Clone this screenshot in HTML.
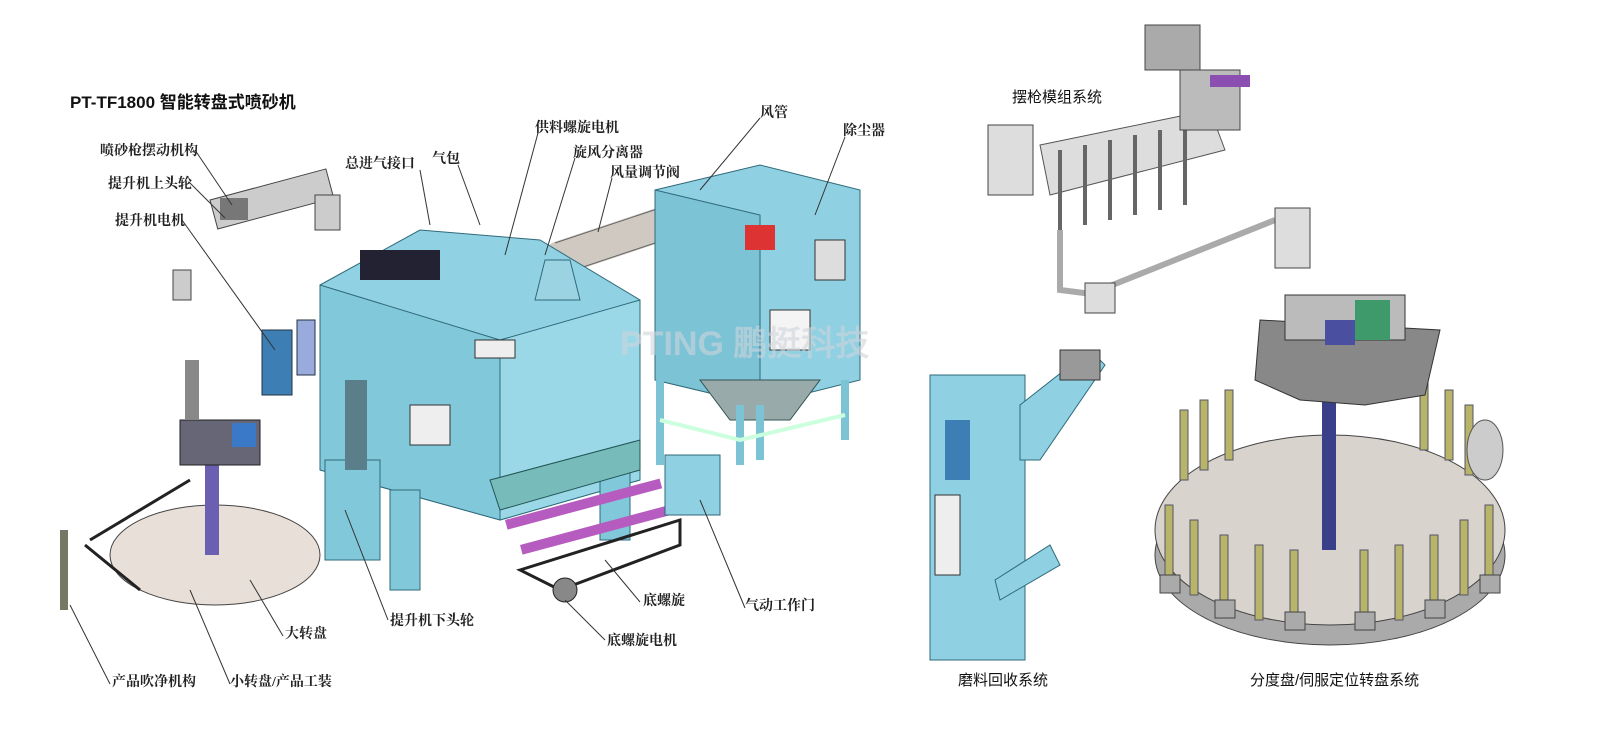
<!DOCTYPE html>
<html><head><meta charset="utf-8"><style>
html,body{margin:0;padding:0;background:#fff;}
svg{display:block}
.l{font-family:"Liberation Serif","Noto Serif CJK SC",serif;font-size:14px;fill:#222;font-weight:bold}
.b{font-family:"Liberation Sans","Noto Sans CJK SC",sans-serif;font-size:15px;fill:#111}
</style></head><body>
<svg width="1600" height="735" viewBox="0 0 1600 735" xmlns="http://www.w3.org/2000/svg">
<rect width="1600" height="735" fill="#fff"/>
<text x="70" y="108" font-family="Liberation Sans,Noto Sans CJK SC,sans-serif" font-size="17" font-weight="bold" fill="#111">PT-TF1800 智能转盘式喷砂机</text>

<!-- pipe -->
<path d="M560 258 L770 188" stroke="#cfc9c1" stroke-width="34" stroke-linecap="round"/>
<path d="M555 243 L765 173 M565 273 L775 203" stroke="#666" stroke-width="1"/>
<!-- dust collector -->
<polygon points="655,190 760,165 860,190 860,380 760,405 655,380" fill="#8fd0e2" stroke="#2f6a7a"/>
<polygon points="655,190 760,215 760,405 655,380" fill="#7cc3d6" stroke="#2f6a7a"/>
<rect x="745" y="225" width="30" height="25" fill="#d33"/>
<rect x="815" y="240" width="30" height="40" fill="#ddd" stroke="#333"/>
<polygon points="700,380 820,380 790,420 730,420" fill="#9aa" stroke="#355"/>
<path d="M660 380 L660 465 M740 405 L740 465 M845 380 L845 440 M760 405 L760 460" stroke="#7cc3d6" stroke-width="8"/>
<path d="M660 420 L740 440 L845 415" stroke="#cfd" stroke-width="4" fill="none"/>
<rect x="770" y="310" width="40" height="40" fill="#f4f4f4" stroke="#333"/>
<!-- main machine -->
<polygon points="320,285 420,230 540,240 640,300 640,480 500,520 320,470" fill="#90d2e4" stroke="#2f6a7a"/>
<polygon points="320,285 500,340 500,520 320,470" fill="#82c8db" stroke="#2f6a7a"/>
<polygon points="500,340 640,300 640,480 500,520" fill="#9ad8e8" stroke="#2f6a7a"/>
<rect x="325" y="460" width="55" height="100" fill="#82c8db" stroke="#2f6a7a"/>
<rect x="390" y="490" width="30" height="100" fill="#82c8db" stroke="#2f6a7a"/>
<rect x="600" y="470" width="30" height="70" fill="#82c8db" stroke="#2f6a7a"/>
<rect x="345" y="380" width="22" height="90" fill="#5a7f8b"/>
<rect x="410" y="405" width="40" height="40" fill="#eee" stroke="#333"/>
<rect x="475" y="340" width="40" height="18" fill="#eee" stroke="#333"/>
<g fill="#223"><rect x="360" y="250" width="80" height="30"/></g>
<polygon points="535,300 580,300 570,260 545,260" fill="#9cd3e3" stroke="#2f6a7a"/>
<polygon points="490,480 640,440 640,470 500,510" fill="#7bb" stroke="#255"/>
<g fill="#b65bbf"><rect x="505" y="520" width="160" height="10" transform="rotate(-15 505 520)"/><rect x="520" y="545" width="160" height="10" transform="rotate(-15 520 545)"/></g>
<path d="M520 570 L680 520 L680 545 L560 590 Z" fill="none" stroke="#222" stroke-width="3"/>
<circle cx="565" cy="590" r="12" fill="#888" stroke="#222"/>
<text x="620" y="355" font-family="Liberation Sans,sans-serif" font-size="34" font-weight="bold" fill="#cfd6dc" opacity="0.6">PTING 鹏挺科技</text>
<!-- door -->
<rect x="665" y="455" width="55" height="60" fill="#8fd0e2" stroke="#2f6a7a"/>
<!-- left swing gun parts -->
<rect x="210" y="200" width="120" height="30" fill="#ccc" stroke="#444" transform="rotate(-15 210 200)"/>
<rect x="315" y="195" width="25" height="35" fill="#ccc" stroke="#444"/>
<rect x="220" y="198" width="28" height="22" fill="#777"/>
<rect x="173" y="270" width="18" height="30" fill="#ccc" stroke="#444"/>
<rect x="262" y="330" width="30" height="65" fill="#3d7fb4" stroke="#234"/>
<rect x="297" y="320" width="18" height="55" fill="#9ad" stroke="#234"/>
<!-- left turntable -->
<ellipse cx="215" cy="555" rx="105" ry="50" fill="#e8e0d8" stroke="#444"/>
<rect x="205" y="420" width="14" height="135" fill="#6a5fb0"/>
<rect x="180" y="420" width="80" height="45" fill="#667" stroke="#222"/>
<rect x="232" y="423" width="24" height="24" fill="#3a78c8"/>
<rect x="185" y="360" width="14" height="60" fill="#888"/>
<path d="M90 540 L190 480 M85 545 L140 590" stroke="#222" stroke-width="3"/>
<rect x="60" y="530" width="8" height="80" fill="#776"/>
<!-- right: swing gun module -->
<rect x="988" y="125" width="45" height="70" fill="#ddd" stroke="#444"/>
<polygon points="1040,145 1210,110 1225,150 1050,195" fill="#ddd" stroke="#555"/>
<g stroke="#666" stroke-width="4"><path d="M1060 150 L1060 230 M1085 145 L1085 225 M1110 140 L1110 220 M1135 135 L1135 215 M1160 130 L1160 210 M1185 125 L1185 205"/></g>
<rect x="1145" y="25" width="55" height="45" fill="#aaa" stroke="#444"/>
<rect x="1180" y="70" width="60" height="60" fill="#bbb" stroke="#444"/>
<rect x="1210" y="75" width="40" height="12" fill="#8a4fb0"/>
<path d="M1060 230 L1060 290 L1100 295 M1100 290 L1275 220" stroke="#aaa" stroke-width="6" fill="none"/>
<rect x="1275" y="208" width="35" height="60" fill="#ddd" stroke="#444"/>
<rect x="1085" y="283" width="30" height="30" fill="#ddd" stroke="#444"/>
<!-- right elevator -->
<rect x="930" y="375" width="95" height="285" fill="#8fd0e2" stroke="#2f6a7a"/>
<polygon points="1020,405 1090,350 1105,365 1040,460 1020,460" fill="#8fd0e2" stroke="#2f6a7a"/>
<rect x="1060" y="350" width="40" height="30" fill="#999" stroke="#333"/>
<rect x="945" y="420" width="25" height="60" fill="#3d7fb4"/>
<rect x="935" y="495" width="25" height="80" fill="#eee" stroke="#333"/>
<polygon points="995,580 1050,545 1060,565 1000,600" fill="#8fd0e2" stroke="#2f6a7a"/>
<!-- right turntable -->
<ellipse cx="1330" cy="555" rx="175" ry="90" fill="#aaa" stroke="#444"/>
<ellipse cx="1330" cy="530" rx="175" ry="95" fill="#d8d3cd" stroke="#444"/>
<g fill="#b8b46a" stroke="#556"><rect x="1180" y="410" width="8" height="70"/><rect x="1200" y="400" width="8" height="70"/><rect x="1225" y="390" width="8" height="70"/><rect x="1420" y="380" width="8" height="70"/><rect x="1445" y="390" width="8" height="70"/><rect x="1465" y="405" width="8" height="70"/><rect x="1165" y="505" width="8" height="70"/><rect x="1190" y="520" width="8" height="75"/><rect x="1220" y="535" width="8" height="75"/><rect x="1255" y="545" width="8" height="75"/><rect x="1290" y="550" width="8" height="75"/><rect x="1360" y="550" width="8" height="75"/><rect x="1395" y="545" width="8" height="75"/><rect x="1430" y="535" width="8" height="75"/><rect x="1460" y="520" width="8" height="75"/><rect x="1485" y="505" width="8" height="70"/></g>
<g fill="#aaa" stroke="#444"><rect x="1160" y="575" width="20" height="18"/><rect x="1215" y="600" width="20" height="18"/><rect x="1285" y="612" width="20" height="18"/><rect x="1355" y="612" width="20" height="18"/><rect x="1425" y="600" width="20" height="18"/><rect x="1480" y="575" width="20" height="18"/></g>
<rect x="1322" y="380" width="14" height="170" fill="#3a3f8a"/>
<polygon points="1260,320 1440,330 1425,395 1365,405 1300,400 1255,380" fill="#888" stroke="#333"/>
<rect x="1285" y="295" width="120" height="45" fill="#bbb" stroke="#333"/>
<rect x="1355" y="300" width="35" height="40" fill="#3e9a6a"/>
<rect x="1325" y="320" width="30" height="25" fill="#4a4fa0"/>
<ellipse cx="1485" cy="450" rx="18" ry="30" fill="#ccc" stroke="#555"/>

<!-- leader lines -->
<g stroke="#333" stroke-width="1" fill="none">
<path d="M195 150 L232 205"/><path d="M190 183 L225 218"/><path d="M182 220 L275 350"/>
<path d="M420 170 L430 225"/><path d="M458 165 L480 225"/><path d="M538 133 L505 255"/>
<path d="M575 158 L545 255"/><path d="M612 178 L598 232"/><path d="M760 118 L700 190"/>
<path d="M845 137 L815 215"/><path d="M388 620 L345 510"/><path d="M640 602 L605 560"/>
<path d="M605 640 L565 600"/><path d="M745 608 L700 500"/><path d="M283 636 L250 580"/>
<path d="M230 684 L190 590"/><path d="M110 684 L70 605"/>
</g>

<g class="l">
<text x="100" y="155">喷砂枪摆动机构</text>
<text x="108" y="188">提升机上头轮</text>
<text x="115" y="225">提升机电机</text>
<text x="345" y="168">总进气接口</text>
<text x="432" y="163">气包</text>
<text x="535" y="132">供料螺旋电机</text>
<text x="573" y="157">旋风分离器</text>
<text x="610" y="177">风量调节阀</text>
<text x="760" y="117">风管</text>
<text x="843" y="135">除尘器</text>
<text x="390" y="625">提升机下头轮</text>
<text x="643" y="605">底螺旋</text>
<text x="607" y="645">底螺旋电机</text>
<text x="745" y="610">气动工作门</text>
<text x="285" y="638">大转盘</text>
<text x="230" y="686">小转盘/产品工装</text>
<text x="112" y="686">产品吹净机构</text>
</g>
<g class="b">
<text x="1012" y="102">摆枪模组系统</text>
<text x="958" y="685">磨料回收系统</text>
<text x="1250" y="685">分度盘/伺服定位转盘系统</text>
</g>
</svg>
</body></html>
